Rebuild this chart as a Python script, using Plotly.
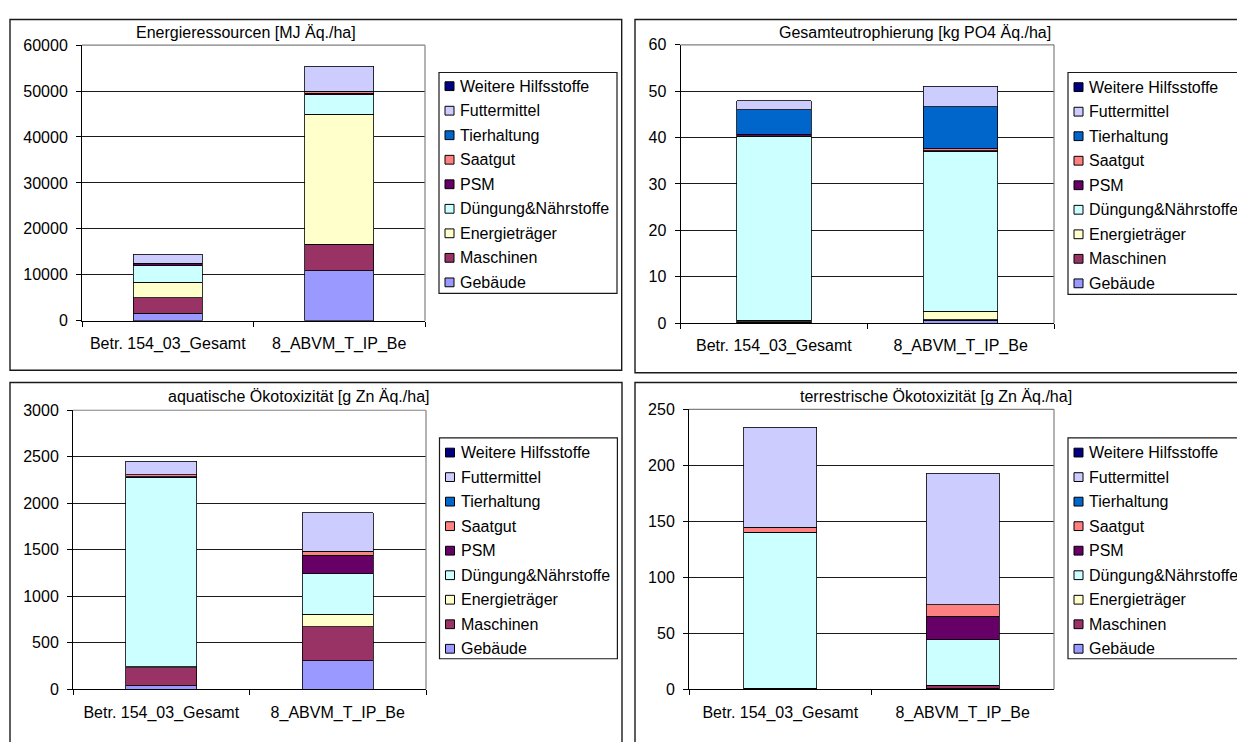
import plotly.graph_objects as go

# ---------------- data ----------------
categories = ["Betr. 154_03_Gesamt", "8_ABVM_T_IP_Be"]
series_names = ["Gebäude", "Maschinen", "Energieträger", "Düngung&Nährstoffe", "PSM",
                "Saatgut", "Tierhaltung", "Futtermittel", "Weitere Hilfsstoffe"]
series_colors = ["#9999FF", "#993366", "#FFFFCC", "#CCFFFF", "#660066",
                 "#FF8080", "#0066CC", "#CCCCFF", "#000080"]

panel_titles = ["Energieressourcen [MJ Äq./ha]", "Gesamteutrophierung [kg PO4 Äq./ha]",
                "aquatische Ökotoxizität [g Zn Äq./ha]", "terrestrische Ökotoxizität [g Zn Äq./ha]"]
y_max = [60000, 60, 3000, 250]
y_step = [10000, 10, 500, 50]

# values in series order (Gebäude ... Weitere Hilfsstoffe)
energie_betr = [1600, 3400, 3400, 3650, 350, 50, 0, 2050, 0]
energie_abvm = [10850, 5800, 28300, 4200, 400, 450, 0, 5450, 0]
eutro_betr = [0.15, 0.15, 0.3, 39.7, 0.35, 0.05, 5.3, 1.9, 0]
eutro_abvm = [0.6, 0.1, 1.85, 34.45, 0.15, 0.4, 9.05, 4.45, 0]
aqua_betr = [40, 194, 6, 2036, 10, 20, 0, 144, 0]
aqua_abvm = [305, 367, 133, 438, 199, 43, 0, 415, 0]
terr_betr = [0.3, 0.5, 0.2, 139.1, 0.3, 4.4, 0, 89.3, 0]
terr_abvm = [1.0, 2.0, 0.5, 40.7, 21.2, 10.2, 0, 117.4, 0]

panel_values = [(energie_betr, energie_abvm), (eutro_betr, eutro_abvm),
                (aqua_betr, aqua_abvm), (terr_betr, terr_abvm)]

# ---------------- layout geometry (pixels) ----------------
W, H = 1237, 742
def px(x):
    return x / W
def py(y):
    return 1 - y / H

# plot area: x0, x1, ytop, ybottom
plot_boxes = [(82, 425, 38, 320), (680.5, 1054, 37.7, 322.5),
              (73, 426, 411.7, 697.3), (689, 1054, 410.7, 697.3)]
# outer chart box
outer_boxes = [(10, 11.7, 621.7, 370.7), (635, 11.7, 1260, 373.3),
               (10, 383.3, 622, 770), (635, 383.3, 1260, 770)]
# legend box: x0, y0, x1, y1, first item center y
legend_boxes = [(439, 66, 617, 292, 80), (1068, 66, 1260, 293, 81),
                (439.5, 440, 617.4, 666, 455), (1068, 440, 1260, 666, 455)]
title_pos = [(246, 25), (915, 25), (298.5, 398), (936, 398)]
legend_step = 25.1

FONT = "Liberation Sans, Arial, sans-serif"

fig = go.Figure()
shapes = []
annotations = []

for k in range(4):
    s = "" if k == 0 else str(k + 1)
    betr, abvm = panel_values[k]
    for i, name in enumerate(series_names):
        vals = [betr[i] if betr[i] != 0 else None, abvm[i] if abvm[i] != 0 else None]
        fig.add_trace(go.Bar(
            x=categories, y=vals, name=name,
            marker=dict(color=series_colors[i], line=dict(color="#000000", width=0.8)),
            xaxis="x" + s, yaxis="y" + s, showlegend=False,
        ))
    x0, x1, yt, yb = plot_boxes[k]
    fig.update_layout(**{
        "xaxis" + s: dict(
            domain=[px(x0), px(x1)], anchor="y" + s, type="category",
            range=[-0.5, 1.5], tickson="boundaries", ticks="outside", ticklen=5,
            tickcolor="#000000", showline=True, linecolor="#000000", linewidth=1,
            showgrid=False, ticklabelstandoff=8,
            tickfont=dict(family=FONT, size=16, color="#000000"),
        ),
        "yaxis" + s: dict(
            domain=[py(yb), py(yt)], anchor="x" + s,
            range=[0, y_max[k]], dtick=y_step[k], tick0=0, tickformat="d",
            ticks="outside", ticklen=5,
            tickcolor="#000000", showline=True, linecolor="#000000", linewidth=1,
            showgrid=True, gridcolor="#1a1a1a", gridwidth=1, zeroline=False,
            ticklabelstandoff=5,
            tickfont=dict(family=FONT, size=16, color="#000000"),
        ),
    })
    # plot area border (top & right, gray)
    shapes.append(dict(type="line", xref="paper", yref="paper",
                       x0=px(x0), x1=px(x1), y0=py(yt), y1=py(yt),
                       line=dict(color="#808080", width=1.2), layer="above"))
    shapes.append(dict(type="line", xref="paper", yref="paper",
                       x0=px(x1), x1=px(x1), y0=py(yt), y1=py(yb),
                       line=dict(color="#808080", width=1.2), layer="above"))
    # outer chart box
    bx0, by0, bx1, by1 = outer_boxes[k]
    shapes.append(dict(type="rect", xref="paper", yref="paper",
                       x0=px(bx0), x1=px(bx1), y0=py(by1), y1=py(by0),
                       line=dict(color="#1a1a1a", width=1.4), layer="below"))
    # title
    tx, ty = title_pos[k]
    annotations.append(dict(text=panel_titles[k], xref="paper", yref="paper",
                            x=px(tx), y=py(ty), xanchor="center", yanchor="middle",
                            showarrow=False, font=dict(family=FONT, size=16, color="#000000")))
    # legend box
    lx0, ly0, lx1, ly1, first = legend_boxes[k]
    shapes.append(dict(type="rect", xref="paper", yref="paper",
                       x0=px(lx0), x1=px(lx1), y0=py(ly1), y1=py(ly0),
                       line=dict(color="#1a1a1a", width=1.2), fillcolor="#ffffff", layer="above"))
    for j, i in enumerate(reversed(range(len(series_names)))):
        cy = first + j * legend_step
        shapes.append(dict(type="rect", xref="paper", yref="paper",
                           x0=px(lx0 + 6), x1=px(lx0 + 15), y0=py(cy + 4.5), y1=py(cy - 4.5),
                           line=dict(color="#000000", width=1), fillcolor=series_colors[i],
                           layer="above"))
        annotations.append(dict(text=series_names[i], xref="paper", yref="paper",
                                x=px(lx0 + 19), y=py(cy), xanchor="left", yanchor="middle",
                                showarrow=False,
                                font=dict(family=FONT, size=16, color="#000000")))

fig.update_layout(
    width=W, height=H, margin=dict(l=0, r=0, t=0, b=0),
    barmode="stack", bargap=0.6,
    paper_bgcolor="#ffffff", plot_bgcolor="#ffffff",
    shapes=shapes, annotations=annotations, showlegend=False,
    font=dict(family=FONT, size=16, color="#000000"),
)

fig.write_html("out.html", config={"displayModeBar": False},
               post_script="document.body.style.margin='0px';document.body.style.overflow='hidden';")
